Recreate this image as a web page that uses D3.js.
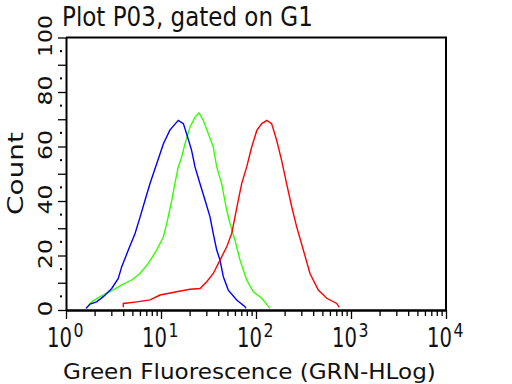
<!DOCTYPE html>
<html>
<head>
<meta charset="utf-8">
<script src="https://cdn.jsdelivr.net/npm/d3@7"></script>
<style>
  html, body { margin: 0; padding: 0; background: #fff; }
  svg { display: block; }
  text { font-family: "DejaVu Sans", Verdana, sans-serif; fill: #111; }
</style>
</head>
<body>
<svg id="chart" width="512" height="384"></svg>
<script>
// ---- data (fluorescence value, count) ----
const blueX  = [1.62,1.79,2.10,2.47,3.03,3.55,3.86,4.53,5.32,6.01,6.79,7.66,9.01,10.6,12.4,15.2,17.2,18.6,21.0,22.8,25.7,29.1,32.8,35.5,38.6,41.8,45.3,51.1,62.6,76.6,78.5];
const blueY  = [0.6,2.2,3.0,4.9,7.9,11.6,15.9,22,28,34,40.3,46.4,53.7,61,66,69.6,68.4,64.7,58.6,52.5,46.4,40.3,34.2,28,22,18.3,12.2,7.3,3.7,1.2,0.6];
const greenX = [1.65,1.86,2.28,2.90,3.86,4.92,6.01,7.35,9.01,10.6,11.5,13.0,14.0,15.2,16.5,17.9,20.2,22.8,25.1,27.9,31.5,35.5,38.6,43.5,49.2,53.2,60.1,67.9,79.8,93.7,115,140];
const greenY = [0.6,3.0,4.9,6.7,9.2,11,13.4,17.1,22,26.9,31.8,40.3,46.4,52.5,56.2,61,67.1,70.8,72.3,69.6,64.7,59.8,52.5,46.4,36.6,31.8,25.6,18.3,11,6.7,4.3,0.6];
const redX   = [4.01,4.01,5.55,7.66,9.76,14.6,20.2,25.7,30.3,35.5,41.8,49.2,55.5,60.1,65.1,70.7,79.8,90.1,102,115,130,146,165,186,210,238,268,315,370,453,555,707,753];
const redY   = [1.0,2.4,3.0,3.7,5.5,6.7,7.6,7.9,10.4,13.4,18.3,23.2,28.1,34.2,40.3,46.4,52.5,59.8,65.9,68.4,69.6,68.4,62.3,54.9,46.4,37.8,30.5,22,13.4,7.3,4.3,2.4,1.0];

const xDecades   = [1, 10, 100, 1000, 10000];
const xExponents = ["0", "1", "2", "3", "4"];
const yLabelVals = [0, 20, 40, 60, 80, 100];
const yLabels    = ["0", "20", "40", "60", "80", "100"];
const titleText  = "Plot P03, gated on G1";
const xTitle     = "Green Fluorescence (GRN-HLog)";
const yTitle     = "Count";

const svg = d3.select("#chart");
const x = d3.scaleLog().domain([1, 10000]).range([66, 446]);
const y = d3.scaleLinear().domain([0, 100]).range([310, 37.5]);

// helper: text squeezed along its reading direction to a target length
function fitText(str, size, len, tx, ty, rot, anchor) {
  const t = svg.append("text").attr("font-size", size).text(str);
  if (anchor) t.attr("text-anchor", anchor);
  const nat = t.node().getComputedTextLength();
  const sx = len / nat;
  t.attr("transform", `translate(${tx},${ty})${rot ? " rotate(" + rot + ")" : ""} scale(${sx},1)`);
  return t;
}

// frame (top + right)
svg.append("path")
  .attr("d", `M${x(1)},${y(100)}H${x(10000)}V${y(0)}`)
  .attr("fill", "none").attr("stroke", "#000").attr("stroke-width", 2);

// x axis minor ticks
const minor = [];
for (let d = 0; d < 4; d++) for (let k = 2; k <= 9; k++) minor.push(k * Math.pow(10, d));
const gx = svg.append("g").attr("transform", `translate(0,${y(0)})`);
gx.call(d3.axisBottom(x).tickValues(minor).tickSize(6).tickSizeOuter(0).tickFormat(""));
gx.append("g").call(d3.axisBottom(x).tickValues(xDecades).tickSize(9).tickSizeOuter(0).tickFormat(""));
gx.selectAll(".domain").attr("stroke", "#000").attr("stroke-width", 2);
gx.selectAll(".tick line").attr("stroke", "#000").attr("stroke-width", 1.3);

// y axis ticks
const yTicks = d3.range(0, 101, 10);
const gy = svg.append("g").attr("transform", `translate(${x(1)},0)`);
gy.call(d3.axisLeft(y).tickValues(yTicks).tickSize(8).tickSizeOuter(0).tickFormat(""));
gy.selectAll(".domain").attr("stroke", "#000").attr("stroke-width", 2);
gy.selectAll(".tick line").attr("stroke", "#000").attr("stroke-width", 1.3);
// y minor dots
svg.append("g").selectAll("rect").data(d3.range(5, 100, 10)).join("rect")
  .attr("x", 60).attr("y", d => y(d) - 1).attr("width", 2).attr("height", 2).attr("fill", "#000");

// x tick labels (10^n)
xDecades.forEach((v, i) => {
  const cx = x(v);
  fitText("10", 26, 25, cx - 19, 347);
  fitText(xExponents[i], 19, 10, cx + 7.5, 337);
});

// y tick labels (rotated)
yLabelVals.forEach((v, i) => {
  const len = yLabels[i].length === 3 ? 42 : (yLabels[i].length === 2 ? 30 : 16);
  fitText(yLabels[i], 19, len, 52, y(v) - 1.5, -90, "middle");
});

// titles
fitText(titleText, 26, 251, 62, 26);
fitText(xTitle, 22, 373, 63, 379);
fitText(yTitle, 22, 83, 23, 173.5, -90, "middle");

// curves
const line = d3.line().x(d => x(d[0])).y(d => y(d[1]));
const series = [
  { xs: greenX, ys: greenY, color: "#33ff00" },
  { xs: blueX,  ys: blueY,  color: "#0000ff" },
  { xs: redX,   ys: redY,   color: "#ff0000" }
];
series.forEach(s => {
  svg.append("path")
    .datum(s.xs.map((v, i) => [v, s.ys[i]]))
    .attr("d", line)
    .attr("fill", "none").attr("stroke", s.color).attr("stroke-width", 1.4);
});
</script>
</body>
</html>
